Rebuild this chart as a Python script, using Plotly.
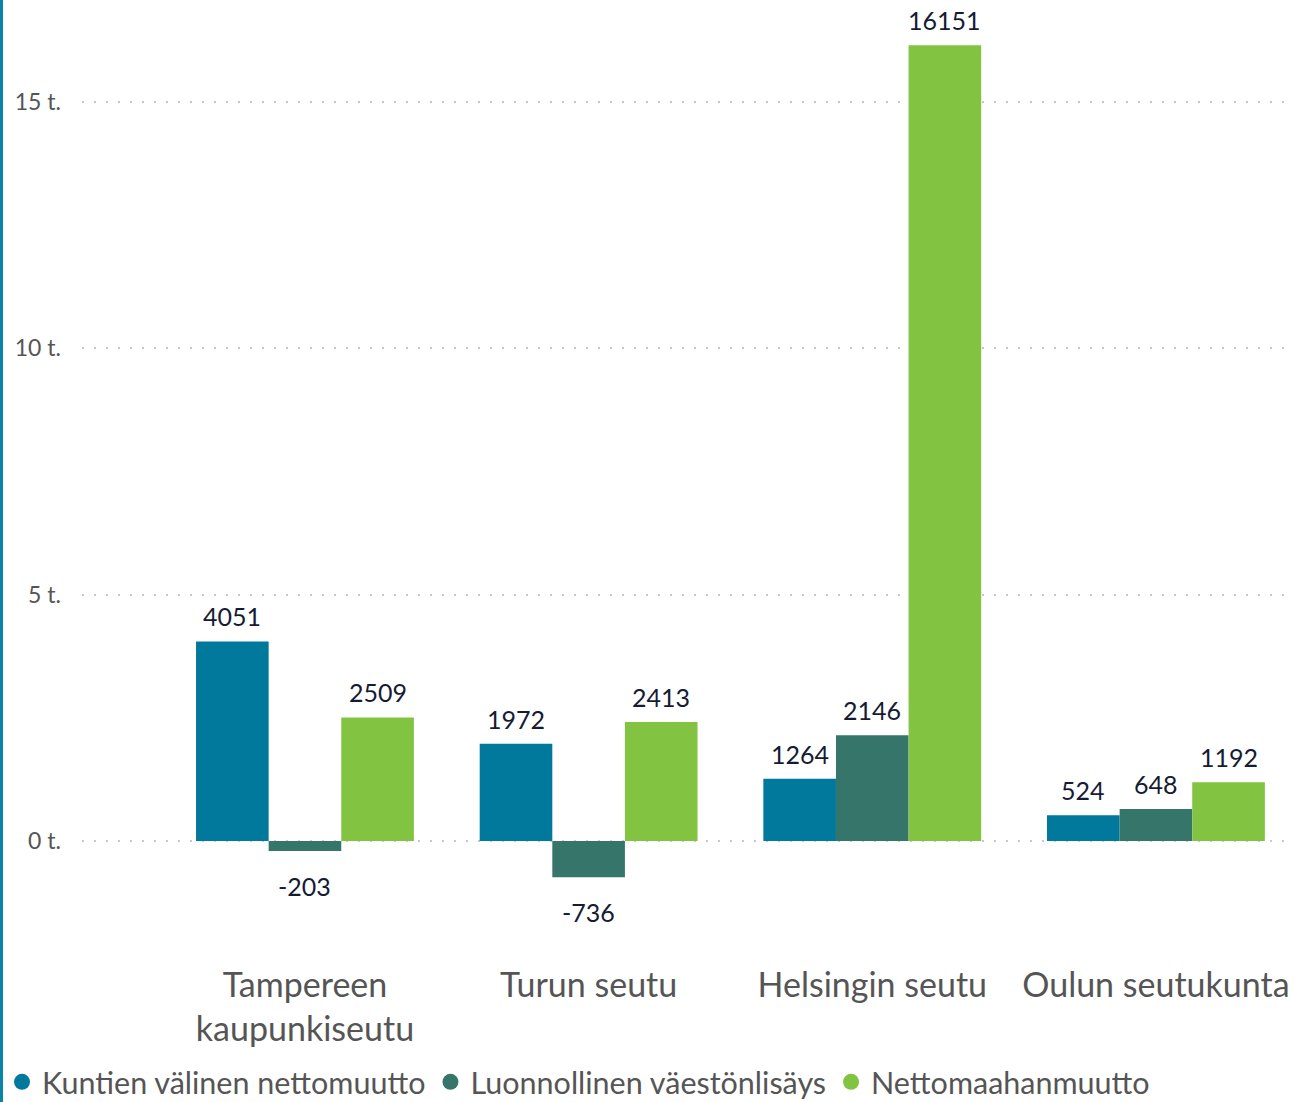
import plotly.graph_objects as go

categories = ["Tampereen<br>kaupunkiseutu", "Turun seutu", "Helsingin seutu", "Oulun seutukunta"]
series_names = ["Kuntien välinen nettomuutto", "Luonnollinen väestönlisäys", "Nettomaahanmuutto"]
kuntien = [4051, 1972, 1264, 524]
luonnollinen = [-203, -736, 2146, 648]
maahanmuutto = [2509, 2413, 16151, 1192]
tick_vals = [0, 5000, 10000, 15000]
tick_text = ["0 t.", "5 t.", "10 t.", "15 t."]

colors = ["#00799C", "#36766A", "#82C341"]
values = [kuntien, luonnollinen, maahanmuutto]

FONT = "Lato"
W, H = 1294, 1102
ML, MR, MT, MB = 82, 9, 10, 162
plot_w = W - ML - MR
plot_h = H - MT - MB

fig = go.Figure()
for name, vals, col in zip(series_names, values, colors):
    fig.add_trace(go.Bar(x=categories, y=vals, name=name, marker_color=col,
                         marker_line_width=0, showlegend=False, hoverinfo="skip"))
for name, col in zip(series_names, colors):
    fig.add_trace(go.Scatter(x=[None], y=[None], mode="markers", name=name,
                             marker=dict(symbol="circle", size=21, color=col)))

# data labels
cat_px = plot_w / (3.455 + 0.786)
bar_px = cat_px * (1 - 0.232) / 3
for i, vals in enumerate(values):
    for c, v in zip(categories, vals):
        fig.add_annotation(x=c, y=v, text=str(v), showarrow=False,
                           xshift=(i - 1) * bar_px,
                           yanchor="bottom" if v >= 0 else "top",
                           yshift=8 if v >= 0 else -18,
                           font=dict(family=FONT, size=25, color="#141B33"))

fig.add_shape(type="line", xref="paper", yref="paper",
              x0=-(ML - 1.5) / plot_w, x1=-(ML - 1.5) / plot_w,
              y0=-MB / plot_h, y1=1 + MT / plot_h,
              line=dict(color="#0A85A8", width=3))

fig.update_layout(
    width=W, height=H,
    margin=dict(l=ML, r=MR, t=MT, b=MB, autoexpand=False),
    paper_bgcolor="white", plot_bgcolor="white",
    barmode="group", bargap=0.232, bargroupgap=0,
    font=dict(family=FONT, color="#555555"),
    xaxis=dict(range=[-0.786, 3.455], showgrid=False, zeroline=False, showline=False,
               automargin=False,
               ticks="", tickfont=dict(size=34, color="#555555"), ticklabelstandoff=22),
    yaxis=dict(range=[-2009, 16866], tickvals=tick_vals, ticktext=tick_text,
               automargin=False,
               showgrid=True, gridcolor="#C8C8C8", gridwidth=2, griddash="2px,10px",
               zeroline=False, showline=False, ticks="",
               tickfont=dict(size=23, color="#555555"), ticklabelstandoff=20),
    legend=dict(orientation="h", x=-(ML - 2) / plot_w, xanchor="left",
                y=-(1082 - (H - MB)) / plot_h, yanchor="middle",
                font=dict(size=30.5, color="#555555"), itemwidth=30,
                tracegroupgap=0, bgcolor="rgba(0,0,0,0)"),
    showlegend=True,
)

fig.write_html("out.html", config={"displayModeBar": False},
               post_script="document.body.style.margin='0';document.body.style.overflow='hidden';")
